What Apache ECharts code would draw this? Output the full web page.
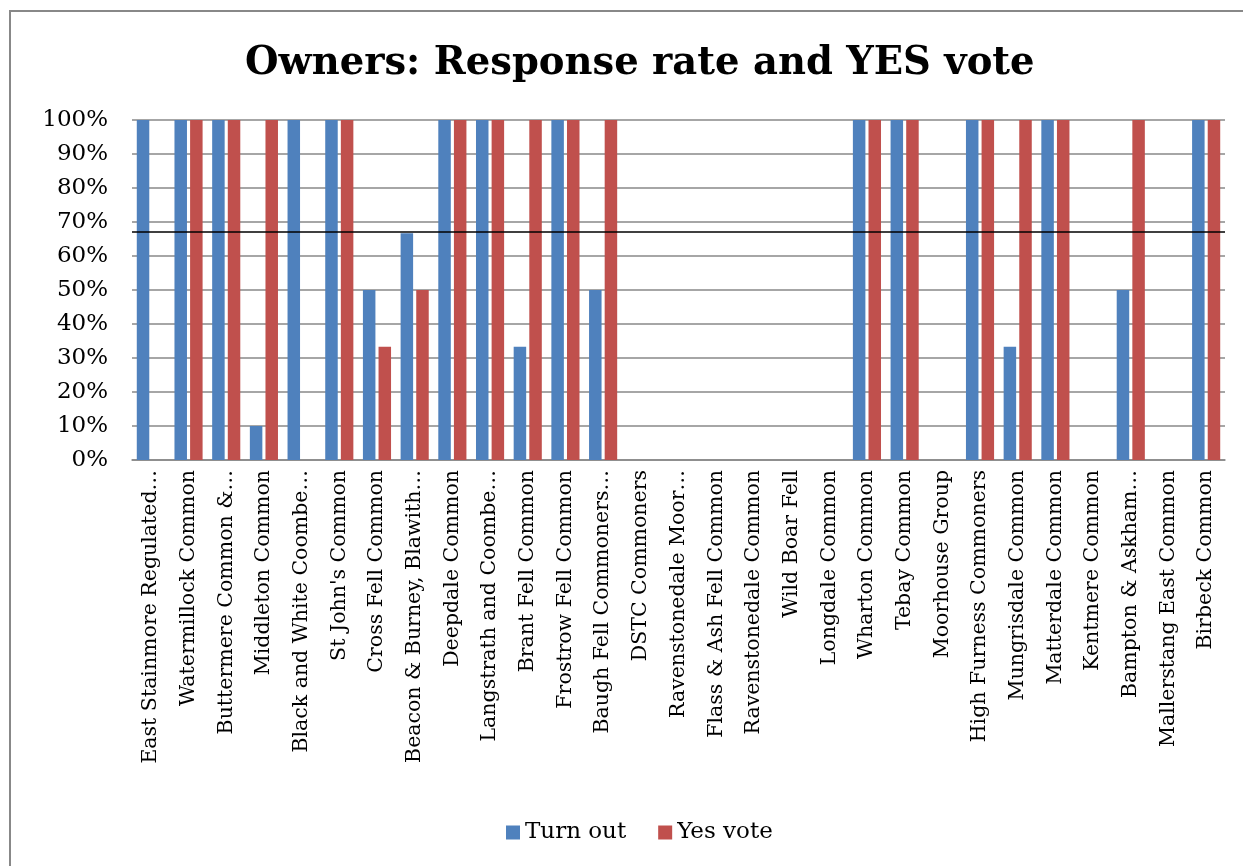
<!DOCTYPE html>
<html>
<head>
<meta charset="utf-8">
<script src="https://cdn.jsdelivr.net/npm/echarts@6/dist/echarts.min.js"></script>
<style>
  html, body { margin: 0; padding: 0; background: #fff; }
  #main { width: 1243px; height: 866px; }
</style>
</head>
<body>
<div id="main"></div>
<script>
// categories (names cut short the way the original sheet shows them)
var commons = [
  'East Stainmore Regulated…', 'Watermillock Common', 'Buttermere Common &…',
  'Middleton Common', 'Black and White Coombe…', "St John's Common",
  'Cross Fell Common', 'Beacon & Burney, Blawith…', 'Deepdale Common',
  'Langstrath and Coombe…', 'Brant Fell Common', 'Frostrow Fell Common',
  'Baugh Fell Commoners…', 'DSTC Commoners', 'Ravenstonedale Moor…',
  'Flass & Ash Fell Common', 'Ravenstonedale Common', 'Wild Boar Fell',
  'Longdale Common', 'Wharton Common', 'Tebay Common', 'Moorhouse Group',
  'High Furness Commoners', 'Mungrisdale Common', 'Matterdale Common',
  'Kentmere Common', 'Bampton & Askham…', 'Mallerstang East Common',
  'Birbeck Common'
];

// turn out share
var turnOut = [1, 1, 1, 0.1, 1, 1, 0.5, 0.667, 1, 1, 0.333, 1, 0.5, 0, 0,
  0, 0, 0, 0, 1, 1, 0, 1, 0.333, 1, 0, 0.5, 0, 1];

// yes vote share
var yesVote = [0, 1, 1, 1, 0, 1, 0.333, 0.5, 1, 1, 1, 1, 1, 0, 0,
  0, 0, 0, 0, 1, 1, 0, 1, 1, 1, 0, 1, 0, 1];

// two-thirds threshold line
var threshold = 0.67;

var serif = '"DejaVu Serif", "Liberation Serif", serif';

var chart = echarts.init(document.getElementById('main'));

var option = {
  backgroundColor: '#fff',
  animation: false,
  title: {
    text: 'Owners: Response rate and YES vote',
    left: 240,
    top: 39,
    textStyle: { fontFamily: serif, fontSize: 38.5, fontWeight: 'bold', color: '#000' }
  },
  legend: {
    bottom: 17,
    left: 501,
    itemWidth: 14,
    itemHeight: 14,
    itemGap: 32,
    icon: 'rect',
    textStyle: { fontFamily: serif, fontSize: 23, color: '#000' },
    data: ['Turn out', 'Yes vote']
  },
  grid: { left: 132, right: 18, top: 120, bottom: 406, containLabel: false },
  xAxis: {
    type: 'category',
    data: commons,
    axisLine: { lineStyle: { color: '#888', width: 1.5 } },
    axisTick: { show: false },
    axisLabel: {
      rotate: 90,
      interval: 0,
      margin: 10,
      fontFamily: serif,
      fontSize: 20.5,
      color: '#000'
    }
  },
  yAxis: {
    type: 'value',
    min: 0,
    max: 1,
    interval: 0.1,
    axisLine: { show: false },
    axisTick: { show: false },
    splitLine: { lineStyle: { color: '#888', width: 1.5 } },
    axisLabel: {
      margin: 24,
      fontFamily: serif,
      fontSize: 23,
      color: '#000',
      formatter: function (v) { return Math.round(v * 100) + '%'; }
    }
  },
  series: [
    {
      name: 'Turn out',
      type: 'bar',
      data: turnOut,
      barWidth: 12.5,
      barGap: '25%',
      itemStyle: { color: '#4F81BD' },
      markLine: {
        silent: true,
        symbol: 'none',
        label: { show: false },
        lineStyle: { color: '#000', width: 1.5, type: 'solid' },
        data: [{ yAxis: threshold }]
      }
    },
    {
      name: 'Yes vote',
      type: 'bar',
      data: yesVote,
      barWidth: 12.5,
      itemStyle: { color: '#C0504D' }
    }
  ],
  graphic: [
    {
      type: 'rect',
      shape: { x: 10, y: 11, width: 1260, height: 870 },
      style: { fill: 'none', stroke: '#888', lineWidth: 2 },
      silent: true
    }
  ]
};

chart.setOption(option);
</script>
</body>
</html>
